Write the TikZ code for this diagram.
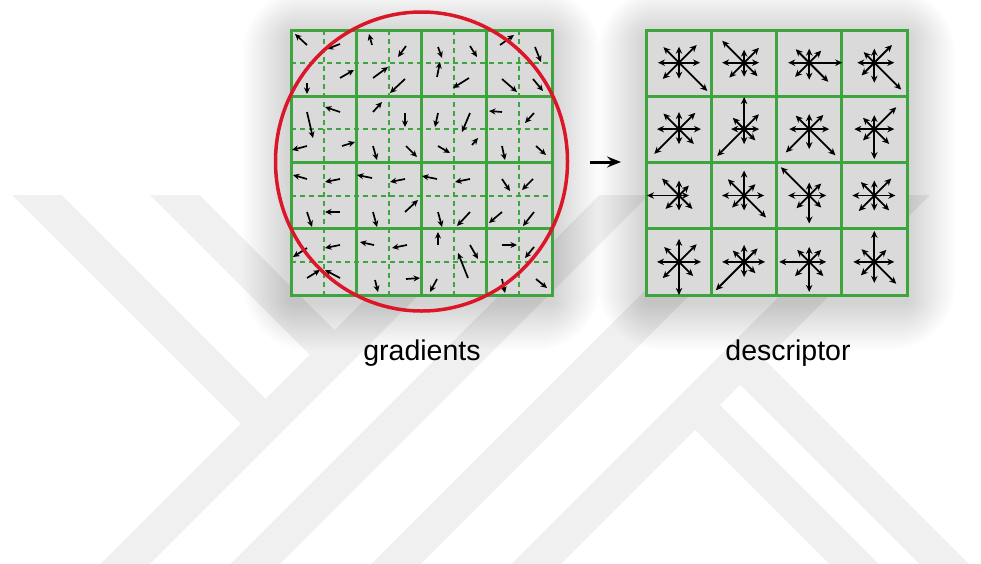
\documentclass[tikz,border=0pt]{standalone}
\usepackage{fontspec}
\setmainfont{Liberation Sans}
\usetikzlibrary{arrows.meta,positioning}
\definecolor{gridgreen}{RGB}{62,164,62}
\definecolor{ringred}{RGB}{218,22,40}
\definecolor{cellgray}{RGB}{218,218,218}

\begin{document}
\begin{tikzpicture}[x=1pt, y=-1pt,
  band/.style={draw=black!6, line width=35pt, line join=miter},
  halo/.style={fill=black, fill opacity=0.009},
  cellbox/.style={rectangle, draw=gridgreen, line width=3pt, fill=cellgray,
                  minimum width=261pt, minimum height=265pt,
                  inner sep=0pt, outer sep=0pt},
  gline/.style={draw=gridgreen, line width=3pt},
  subline/.style={draw=gridgreen, line width=1.9pt, dash pattern=on 5pt off 4pt},
  grad/.style={-{Stealth[length=6.5pt,width=6pt]}, line width=1.7pt},
  bin/.style={-{Stealth[length=7pt,width=6.5pt]}, line width=1.8pt},
  flow/.style={-{Stealth[length=14pt,width=11pt,inset=5pt]}, line width=3pt},
  lbl/.style={font=\fontsize{28.5}{32}\selectfont, anchor=base},
]
\useasboundingbox (0,0) rectangle (981,563);

% watermark bands
\begin{scope}
  \clip (0,195) rectangle (981,563);
  \draw[band] (17,175) -- (265.5,423.5);
  \draw[band] (155,175) -- (334.5,354.5);
  \draw[band] (106,583) -- (514,175);
  \draw[band] (236,583) -- (644,175);
  \draw[band] (377,583) -- (785,175);
  \draw[band] (517,583) -- (925,175);
  \draw[band] (695,405) -- (873,583);
  \draw[band] (740,360) -- (963,583);
\end{scope}

% soft shadows round the two grids
\foreach \i in {1,...,22} {
  \fill[halo, rounded corners=3*\i] ({291-2.2*\i},{36-2.2*\i}) rectangle ({552+2.2*\i},{302+2.2*\i});
  \fill[halo, rounded corners=3*\i] ({646-2.2*\i},{36-2.2*\i}) rectangle ({907+2.2*\i},{302+2.2*\i});
}

% grids
\node[cellbox] (gradGrid) at (421.5,162.5) {};
\node[cellbox, right=94.5pt of gradGrid] (descGrid) {};

\foreach \k in {0.5,1.5,2.5,3.5} {
  \draw[subline] ({291+65.25*\k},30) -- ({291+65.25*\k},295);
  \draw[subline] (291,{30+66.25*\k}) -- (552,{30+66.25*\k});
}
\foreach \k in {1,2,3} {
  \draw[gline] ({291+65.25*\k},30) -- ({291+65.25*\k},295);
  \draw[gline] (291,{30+66.25*\k}) -- (552,{30+66.25*\k});
  \draw[gline] ({646.5+65.125*\k},30) -- ({646.5+65.125*\k},295);
  \draw[gline] (646.5,{30+66.25*\k}) -- (907.5,{30+66.25*\k});
}

% sample gradients
\foreach \xa/\ya/\xb/\yb in {
  307/45/295/34, 340/44/327/49, 372/45/369/34, 406/46/398/57,
  307/83/307/94, 340/78/354/70, 373/78/388/67, 405/79/390/93,
  307/112/313/138, 340/112/325/107, 373/112/382/102, 405/113/405/127,
  307/146/292/150, 342/146/355/142, 373/146/377/160, 406/146/417/157,
  438/47/442/58, 437/77/440/62, 470/46/477/57, 500/45/514/35,
  535/47/541/62, 469/78/453/88, 502/79/517/92, 533/79/543/91,
  438/113/435/127, 470/113/462/132, 502/112/489/111, 534/113/525/123,
  438/146/450/153, 472/145/478/138, 502/146/505/160, 536/146/546/155,
  307/179/293/175, 340/179/325/182, 372/178/357/175, 405/179/390/182,
  307/212/312/227, 340/212/325/212, 373/212/377/227, 405/212/418/200,
  307/248/293/257, 340/245/325/248, 374/245/360/242, 407/245/392/248,
  307/278/320/270, 340/278/325/270, 375/280/378/292, 406/279/420/278,
  437/179/422/176, 470/179/455/182, 502/179/510/191, 533/179/522/190,
  438/212/442/227, 470/212/457/226, 502/212/489/223, 534/212/523/226,
  438/245/438/232, 470/245/478/259, 502/245/517/245, 534/247/525/258,
  437/279/430/292, 468/278/458/253, 502/279/505/293, 536/279/547/288} {
  \draw[grad] (\xa,\ya) -- (\xb,\yb);
}

% orientation histograms (E, NE, N, NW, W, SW, S, SE)
\foreach \cx/\cy/\lE/\lNE/\lN/\lNW/\lW/\lSW/\lS/\lSE in {
  679/62.7/21/25/16/22/21/23/16/40, 744.1/62.7/15/21/13/31/22/21/14/19,
  809.2/62.7/33/17/14/19/21/20/17/27, 874.3/62.7/20/25/14/15/17/18/20/38,
  679/129.1/22/23/17/22/22/35/15/21, 744.1/129.1/15/21/32/16/13/38/15/16,
  809.2/129.1/20/20/15/19/20/33/20/37, 874.3/129.1/20/31/14/16/20/16/30/21,
  679/195.5/10/14/15/24/32/19/15/19, 744.1/195.5/20/16/25/23/22/17/15/31,
  809.2/195.5/17/17/13/40/21/18/28/17, 874.3/195.5/21/24/15/19/22/22/15/21,
  679/261.9/22/25/23/21/22/23/33/20, 744.1/261.9/21/19/17/16/22/40/15/16,
  809.2/261.9/17/17/15/17/30/20/30/20, 874.3/261.9/20/17/31/18/21/19/21/31} {
  \foreach \ang/\len in {0/\lE, -45/\lNE, -90/\lN, -135/\lNW,
                         180/\lW, 135/\lSW, 90/\lS, 45/\lSE} {
    \draw[bin] (\cx,\cy) -- ++(\ang:\len);
  }
}

% sampling window
\draw[ringred, line width=3.5pt] (gradGrid.center) ++(0,-1) ellipse [x radius=146, y radius=149.5];

% arrow between the grids
\coordinate (flowTail) at (590,162);
\coordinate (flowTip) at (621,162);
\draw[flow] (flowTail) -- (flowTip);

% labels
\node[lbl] (gradLbl) at (422,360) {gradients};
\node[lbl] (descLbl) at (788,360) {descriptor};
\end{tikzpicture}
\end{document}
